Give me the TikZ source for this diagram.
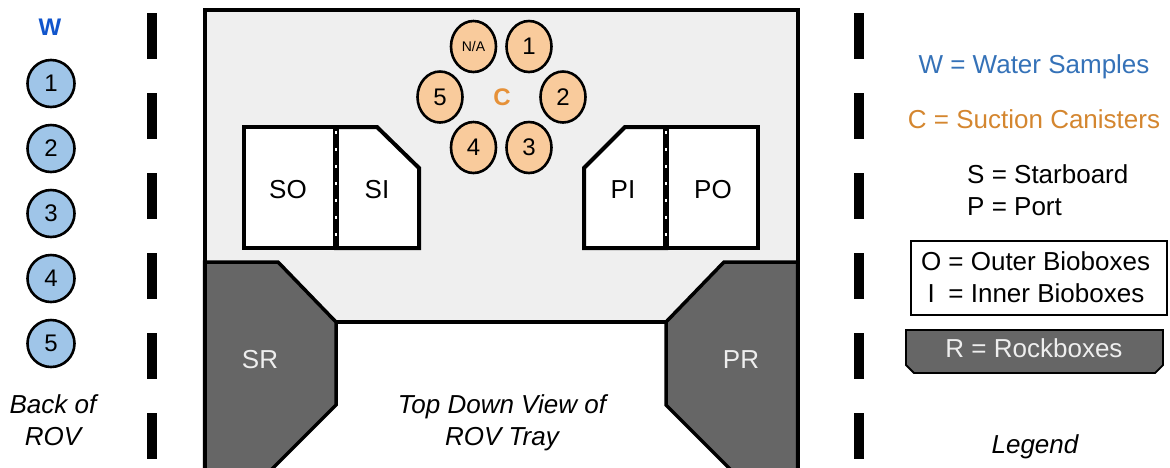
\documentclass[tikz,border=0pt]{standalone}
\usepackage{fontspec}
\setmainfont{Liberation Sans}
\usetikzlibrary{shapes.geometric}

\definecolor{trayfill}{HTML}{EFEFEF}
\definecolor{rockfill}{HTML}{666666}
\definecolor{rocktext}{HTML}{EEEEEE}
\definecolor{waterfill}{HTML}{9FC5E8}
\definecolor{waterblue}{HTML}{1155CC}
\definecolor{legendblue}{HTML}{3572B8}
\definecolor{canfill}{HTML}{F9CB9C}
\definecolor{canorange}{HTML}{E69138}
\definecolor{legendorange}{HTML}{D4862F}

\tikzset{
  big/.style={font=\fontsize{26}{30}\selectfont, inner sep=0pt},
  bigit/.style={font=\fontsize{26}{30}\selectfont\itshape, inner sep=0pt},
  rail/.style={line width=10pt, dash pattern=on 46pt off 34pt},
  watercirc/.style={circle, draw, line width=2.6pt, fill=waterfill,
    minimum size=47pt, inner sep=0pt, font=\fontsize{24}{28}\selectfont},
  canister/.style={ellipse, draw, line width=2.6pt, fill=canfill,
    minimum width=45pt, minimum height=51pt, inner sep=0pt,
    font=\fontsize{24}{28}\selectfont},
  biobox/.style={draw, fill=white, line width=4pt, line join=miter},
  rockbox/.style={draw, fill=rockfill, line width=3.5pt, line join=miter},
  divider/.style={line width=6pt},
  dividerdots/.style={white, line width=2.5pt, dash pattern=on 2.5pt off 14.5pt},
}

\begin{document}
\begin{tikzpicture}[x=1pt, y=-1pt]
\useasboundingbox (0,0) rectangle (1170,467);

% dashed rails on both sides of the tray
\draw[rail] (152,13) -- (152,470);
\draw[rail] (858.5,13) -- (858.5,470);

% water sample column
\node[font=\fontsize{24}{28}\selectfont\bfseries, text=waterblue, inner sep=0pt, anchor=base] (wlabel) at (50,35) {W};
\foreach \i/\y in {1/83.5, 2/148.5, 3/213.5, 4/278.5, 5/343.5}
  \node[watercirc] (w\i) at (51,\y) {\i};
\node[bigit, anchor=base] (back1) at (53,413) {Back of};
\node[bigit, anchor=base] (back2) at (53,445) {ROV};

% tray floor and lower open area
\fill[trayfill] (204.5,10) rectangle (797.5,480);
\fill[white] (250,322) rectangle (752,480);
\draw[line width=3.5pt] (336,322) -- (666,322);

% rockboxes
\filldraw[rockbox] (204.5,262) -- (278,262) -- (336,322) -- (336,405) -- (261,480) -- (204.5,480) -- cycle;
\filldraw[rockbox] (797.5,262) -- (724,262) -- (666,322) -- (666,405) -- (741,480) -- (797.5,480) -- cycle;
\node[big, text=rocktext] (sr) at (260,360) {SR};
\node[big, text=rocktext] (pr) at (741,360) {PR};

% tray outline
\draw[line width=4pt] (204.5,480) -- (204.5,10) -- (797.5,10) -- (797.5,480);

% starboard bioboxes
\filldraw[biobox] (244,127) rectangle (336,248);
\filldraw[biobox] (336,127) -- (377,127) -- (419,168) -- (419,248) -- (336,248) -- cycle;
\draw[divider] (336,125) -- (336,250);
\draw[dividerdots] (336,131) -- (336,245);
\node[big] (so) at (288,190) {SO};
\node[big] (si) at (377,190) {SI};

% port bioboxes
\filldraw[biobox] (666,127) rectangle (758,248);
\filldraw[biobox] (666,127) -- (625,127) -- (584,168) -- (584,248) -- (666,248) -- cycle;
\draw[divider] (666,125) -- (666,250);
\draw[dividerdots] (666,131) -- (666,245);
\node[big] (pi) at (623,190) {PI};
\node[big] (po) at (713,190) {PO};

% suction canister ring
\node[canister, font=\fontsize{14}{16}\selectfont] (cna) at (473.5,46.5) {N/A};
\node[canister] (c1) at (529,46.5) {1};
\node[canister] (c2) at (563,97) {2};
\node[canister] (c3) at (529,147.5) {3};
\node[canister] (c4) at (473.5,147.5) {4};
\node[canister] (c5) at (440,97) {5};
\node[font=\fontsize{24}{28}\selectfont\bfseries, text=canorange, inner sep=0pt] (clabel) at (502,97) {C};

% tray caption
\node[bigit, anchor=base] (cap1) at (502,413) {Top Down View of};
\node[bigit, anchor=base] (cap2) at (502,445) {ROV Tray};

% legend
\node[big, text=legendblue, anchor=base] (legw) at (1034,73) {W = Water Samples};
\node[big, text=legendorange, anchor=base] (legc) at (1034,128) {C = Suction Canisters};
\node[big, anchor=base west] (legs) at (967,183) {S = Starboard};
\node[big, anchor=base west] (legp) at (967,215) {P = Port};
\draw[line width=1.8pt] (911,241) rectangle (1167,315);
\node[big, anchor=base west] (lego) at (921,270) {\makebox[20pt][c]{O} = Outer Bioboxes};
\node[big, anchor=base west] (legi) at (921,302) {\makebox[20pt][c]{I} = Inner Bioboxes};
\filldraw[draw=black, fill=rockfill, line width=1.8pt] (906,330) -- (1163,330) -- (1163,365) -- (1155,373) -- (914,373) -- (906,365) -- cycle;
\node[big, text=rocktext, anchor=base] (legr) at (1034,357) {R = Rockboxes};
\node[bigit, anchor=base] (legend) at (1035,453) {Legend};
\end{tikzpicture}
\end{document}
